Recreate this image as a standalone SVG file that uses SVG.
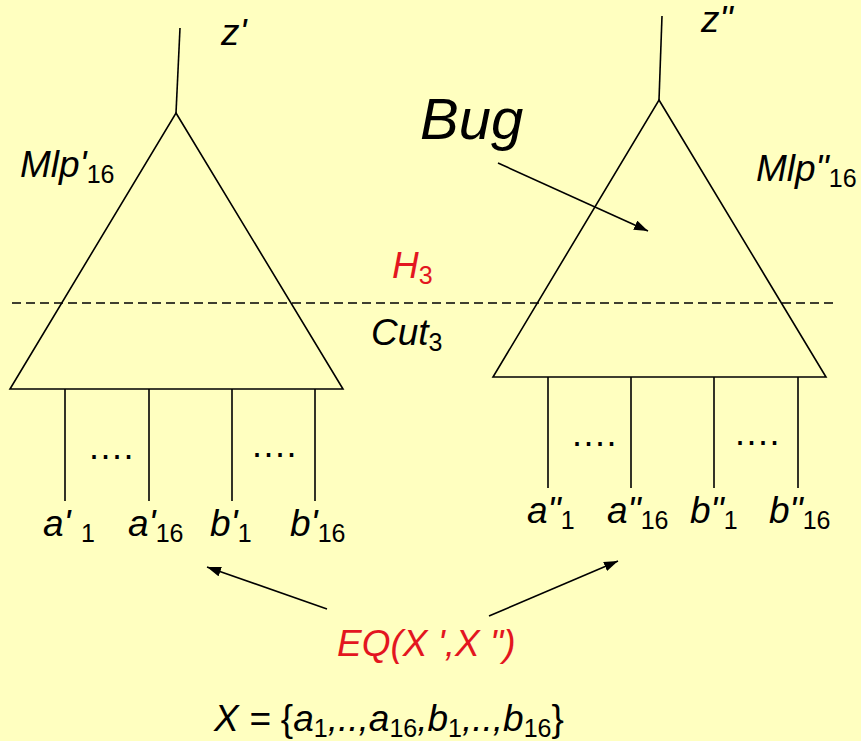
<svg xmlns="http://www.w3.org/2000/svg" width="861" height="741" viewBox="0 0 861 741">
<defs>
<marker id="ah" markerUnits="userSpaceOnUse" markerWidth="16" markerHeight="12" refX="14" refY="5" orient="auto"><path d="M0,0 L14,5 L0,10 Z" fill="#000"/></marker>
<style>
.ln{stroke:#000;stroke-width:1.6;fill:none}
.t{font-family:"Liberation Sans",Arial,sans-serif;font-style:italic;font-size:37px;fill:#000}
.r{fill:#E3161F}
.s{font-style:normal;font-size:25px}
.u{font-style:normal}
.d{font-family:"Liberation Sans",Arial,sans-serif;font-size:36px;fill:#000;letter-spacing:1.5px}
</style>
</defs>
<rect width="861" height="741" fill="#FFFFC0"/>
<g id="cut-line">
<line class="ln" x1="12" y1="303" x2="836" y2="303" stroke-dasharray="9,5"/>
</g>
<g id="left-tree">
<polygon class="ln" points="176,113 343,389 10,389"/>
<line class="ln" x1="176" y1="113" x2="180" y2="28"/>
<line class="ln" x1="65" y1="389" x2="65" y2="501"/>
<line class="ln" x1="149" y1="389" x2="149" y2="501"/>
<line class="ln" x1="232" y1="389" x2="232" y2="501"/>
<line class="ln" x1="315" y1="389" x2="315" y2="501"/>
<text class="d" x="89" y="459">....</text>
<text class="d" x="252" y="457">....</text>
<text class="t" x="221" y="45">z'</text>
<text class="t" x="20" y="177">Mlp'<tspan class="s" dy="6">16</tspan></text>
<text class="t" x="43" y="536">a' <tspan class="s" dy="6">1</tspan></text>
<text class="t" x="128" y="536">a'<tspan class="s" dy="6">16</tspan></text>
<text class="t" x="210" y="536">b'<tspan class="s" dy="6">1</tspan></text>
<text class="t" x="290" y="536">b'<tspan class="s" dy="6">16</tspan></text>
</g>
<g id="right-tree">
<polygon class="ln" points="659,100 826,377 493,377"/>
<line class="ln" x1="659" y1="100" x2="662" y2="16"/>
<line class="ln" x1="548" y1="377" x2="548" y2="488"/>
<line class="ln" x1="631" y1="377" x2="631" y2="488"/>
<line class="ln" x1="714" y1="377" x2="714" y2="488"/>
<line class="ln" x1="798" y1="377" x2="798" y2="488"/>
<text class="d" x="572" y="446">....</text>
<text class="d" x="735" y="445">....</text>
<text class="t" x="701" y="32">z"</text>
<text class="t" x="756" y="181">Mlp"<tspan class="s" dy="6">16</tspan></text>
<text class="t" x="527" y="523">a"<tspan class="s" dy="6">1</tspan></text>
<text class="t" x="607" y="523">a"<tspan class="s" dy="6">16</tspan></text>
<text class="t" x="690" y="523">b"<tspan class="s" dy="6">1</tspan></text>
<text class="t" x="769" y="523">b"<tspan class="s" dy="6">16</tspan></text>
</g>
<g id="labels">
<text class="t" x="420" y="139" style="font-size:58px">Bug</text>
<text class="t r" x="392" y="278">H<tspan class="s" dy="6">3</tspan></text>
<text class="t" x="371" y="345">Cut<tspan class="s" dy="6">3</tspan></text>
<text class="t r" x="337" y="656">EQ(X ',X ")</text>
<text class="t" x="214" y="731">X = <tspan class="u">{</tspan>a<tspan class="s" dy="6">1</tspan><tspan dy="-6">,..,a</tspan><tspan class="s" dy="6">16</tspan><tspan dy="-6">,b</tspan><tspan class="s" dy="6">1</tspan><tspan dy="-6">,..,b</tspan><tspan class="s" dy="6">16</tspan><tspan class="u" dy="-6">}</tspan></text>
</g>
<g id="connectors">
<line class="ln" x1="498" y1="163" x2="648" y2="231" marker-end="url(#ah)"/>
<line class="ln" x1="327" y1="609" x2="207" y2="567" marker-end="url(#ah)"/>
<line class="ln" x1="489" y1="616" x2="618" y2="561" marker-end="url(#ah)"/>
</g>
</svg>
